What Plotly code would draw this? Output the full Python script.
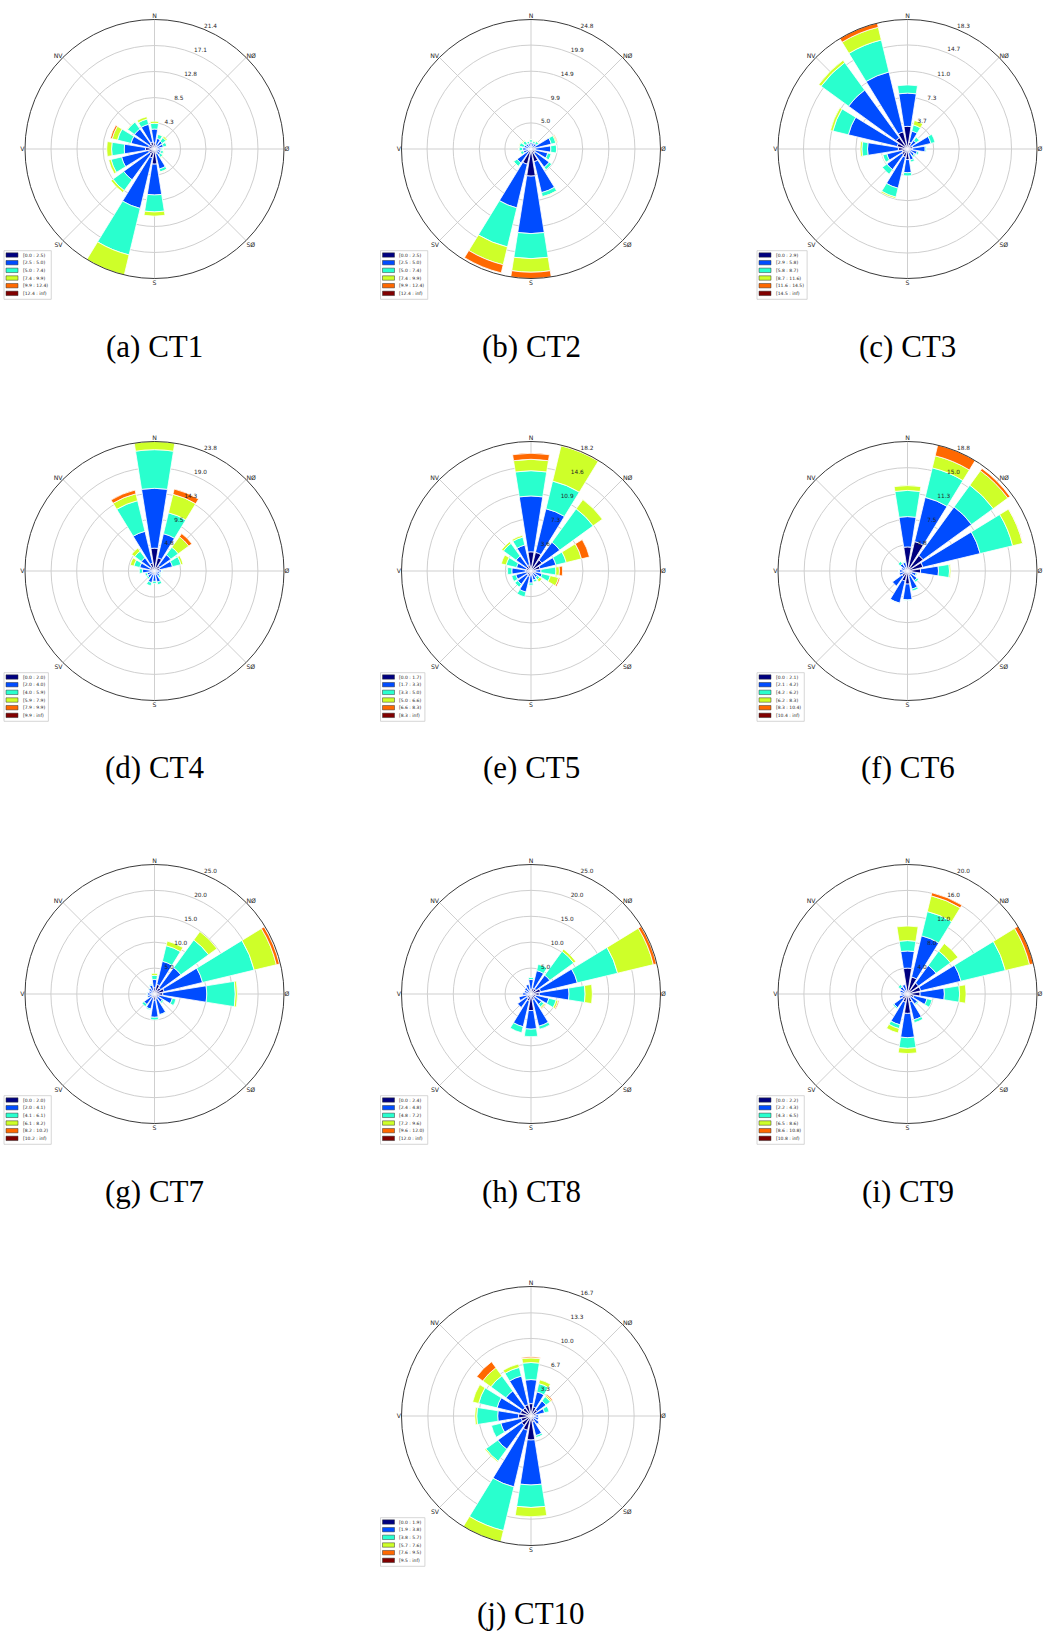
import plotly.graph_objects as go

W, H = 1045, 1634

# 16 compass sectors, N first, going clockwise
SECTORS = [i * 22.5 for i in range(16)]
COMPASS_ANGLES = [0, 45, 90, 135, 180, 225, 270, 315]
COMPASS_LABELS = ["N", "NØ", "Ø", "SØ", "S", "SV", "V", "NV"]
SPEED_COLORS = ["#000080", "#004cff", "#29ffce", "#ceff29", "#ff6800", "#800000"]

# Frequency (%) per speed class; each row holds the 16 sectors N, NNØ, NØ, ... NNV
CT1 = [
    [1.0, 0.7, 0.6, 0.5, 0.5, 0.4, 0.4, 0.8, 2.5, 1.5, 1.0, 1.0, 1.5, 1.0, 1.0, 1.2],
    [2.3, 1.1, 1.0, 1.0, 0.6, 0.7, 0.8, 2.6, 5.1, 8.6, 5.3, 4.6, 3.5, 3.0, 3.1, 3.0],
    [0.95, 0.7, 0.75, 0.6, 0.3, 0.45, 0.5, 0.5, 2.8, 7.9, 2.2, 1.8, 2.1, 2.3, 1.4, 0.9],
    [0.35, 0.05, 0.25, 0.05, 0.05, 0.1, 0.1, 0.05, 0.7, 3.4, 0.4, 0.4, 0.8, 0.9, 0.1, 0.4],
    [0, 0, 0, 0, 0, 0, 0, 0, 0, 0, 0, 0, 0, 0.3, 0, 0],
    [0, 0, 0, 0, 0, 0, 0, 0, 0, 0, 0, 0, 0, 0, 0, 0],
]
CT2 = [
    [0.5, 0.4, 0.4, 0.8, 0.8, 0.8, 1.0, 2.5, 5.2, 3.0, 0.8, 0.4, 0.4, 0.4, 0.4, 0.4],
    [0.8, 0.8, 0.9, 3.2, 3.0, 2.5, 3.3, 6.1, 11.0, 8.6, 2.5, 1.1, 1.2, 1.0, 0.8, 0.7],
    [0.5, 0.4, 0.5, 0.9, 1.1, 0.7, 0.6, 0.8, 4.8, 7.7, 0.8, 0.6, 0.7, 0.9, 0.7, 0.45],
    [0.05, 0.05, 0.1, 0.2, 0.05, 0.05, 0, 0.1, 2.6, 3.5, 0.05, 0.05, 0.1, 0.1, 0.2, 0.05],
    [0, 0, 0, 0.15, 0, 0, 0, 0, 1.2, 1.6, 0, 0, 0, 0, 0, 0],
    [0, 0, 0, 0, 0, 0, 0, 0, 0, 0, 0, 0, 0, 0, 0, 0],
]
CT3 = [
    [3.2, 1.0, 0.5, 0.8, 0.7, 0.5, 0.5, 0.6, 1.5, 1.2, 1.0, 0.8, 1.3, 1.5, 2.0, 2.5],
    [4.7, 1.6, 1.0, 2.6, 1.8, 0.9, 0.7, 1.0, 1.85, 4.5, 2.6, 2.2, 4.35, 7.1, 8.3, 8.7],
    [1.15, 0.9, 0.6, 0.6, 0.15, 0.25, 0.2, 0.3, 0.45, 1.3, 0.8, 0.6, 0.8, 2.25, 4.8, 4.65],
    [0, 0.65, 0.05, 0, 0, 0, 0, 0, 0, 0.2, 0, 0.05, 0.25, 0.35, 0.4, 1.85],
    [0, 0, 0, 0, 0, 0, 0, 0, 0, 0, 0, 0, 0, 0, 0, 0.6],
    [0, 0, 0, 0, 0, 0, 0, 0, 0, 0, 0, 0, 0, 0, 0, 0],
]
CT4 = [
    [4.2, 2.5, 1.2, 1.0, 0.5, 0.4, 0.4, 0.6, 0.6, 0.6, 0.5, 0.5, 0.6, 0.9, 1.0, 1.5],
    [11.0, 4.55, 2.5, 2.4, 0.8, 0.6, 0.8, 1.5, 1.3, 1.6, 1.0, 0.9, 1.6, 1.9, 2.0, 6.0],
    [7.1, 3.95, 1.7, 1.6, 0.2, 0.2, 0.3, 0.5, 0.4, 0.6, 0.3, 0.4, 0.6, 1.1, 1.5, 5.8],
    [1.5, 3.5, 2.4, 0.4, 0, 0, 0, 0, 0, 0, 0, 0, 0, 0.7, 0.7, 1.3],
    [0, 1.0, 0.7, 0, 0, 0, 0, 0, 0, 0, 0, 0, 0, 0, 0, 0.7],
    [0, 0, 0, 0, 0, 0, 0, 0, 0, 0, 0, 0, 0, 0, 0, 0],
]
CT5 = [
    [2.7, 2.7, 1.9, 1.3, 0.6, 0.6, 0.4, 0.5, 0.6, 0.8, 0.7, 0.6, 0.8, 0.7, 0.8, 0.9],
    [7.85, 6.3, 3.1, 2.3, 0.8, 1.0, 0.7, 0.8, 1.1, 2.25, 1.6, 1.6, 1.9, 1.4, 1.8, 2.85],
    [3.55, 4.0, 5.8, 1.5, 2.1, 1.2, 0.4, 0.3, 0.3, 0.7, 0.5, 0.6, 0.6, 1.5, 2.2, 1.15],
    [1.6, 5.1, 1.6, 2.2, 0.5, 1.2, 0.4, 0, 0, 0, 0, 0, 0, 0.7, 0.3, 0.25],
    [0.85, 0.1, 0, 1.15, 0.45, 0.2, 0, 0, 0, 0, 0, 0, 0, 0, 0, 0],
    [0, 0, 0, 0, 0, 0, 0, 0, 0, 0, 0, 0, 0, 0, 0, 0],
]
CT6 = [
    [3.5, 4.4, 2.8, 2.3, 1.9, 0.6, 0.6, 0.8, 1.9, 1.5, 1.0, 0.5, 0.5, 0.4, 0.5, 0.5],
    [4.4, 6.6, 8.7, 8.55, 2.6, 0.7, 1.1, 1.9, 2.3, 3.3, 1.7, 0.7, 0.7, 0.5, 0.8, 0.8],
    [3.8, 4.4, 3.9, 4.85, 1.6, 0.15, 0.3, 0.3, 0.05, 0.05, 0, 0, 0.05, 0, 0.4, 0.1],
    [0.7, 1.8, 2.6, 1.5, 0.2, 0, 0, 0, 0, 0, 0, 0, 0, 0, 0, 0],
    [0, 1.6, 0.4, 0.05, 0, 0, 0, 0, 0, 0, 0, 0, 0, 0, 0, 0],
    [0, 0, 0, 0, 0, 0, 0, 0, 0, 0, 0, 0, 0, 0, 0, 0],
]
CT7 = [
    [1.2, 1.9, 1.5, 1.9, 1.6, 0.9, 0.7, 1.0, 1.2, 0.8, 0.7, 0.5, 0.5, 0.4, 0.5, 0.7],
    [1.6, 4.6, 4.8, 7.65, 8.5, 2.65, 1.2, 3.1, 3.3, 2.2, 1.8, 0.9, 0.9, 0.7, 0.9, 1.1],
    [0.8, 3.1, 6.6, 10.25, 5.5, 0.7, 0.3, 0.1, 0.5, 0.2, 0.5, 0.1, 0.1, 0, 0.1, 0.2],
    [0.4, 0.9, 2.0, 4.4, 0.4, 0, 0, 0, 0, 0, 0, 0, 0, 0, 0, 0],
    [0, 0, 0, 0.6, 0, 0, 0, 0, 0, 0, 0, 0, 0, 0, 0, 0],
    [0, 0, 0, 0, 0, 0, 0, 0, 0, 0, 0, 0, 0, 0, 0, 0],
]
CT8 = [
    [0.9, 1.2, 1.2, 1.9, 1.6, 1.0, 0.9, 1.2, 3.2, 1.4, 1.0, 0.8, 0.6, 0.5, 0.6, 0.7],
    [1.9, 3.45, 3.3, 7.3, 5.75, 2.55, 1.6, 5.2, 3.6, 5.1, 2.2, 1.6, 1.0, 0.8, 0.9, 1.2],
    [0.4, 1.25, 5.7, 8.0, 3.1, 1.45, 0.6, 0.6, 1.45, 1.2, 0, 0, 0, 0, 0, 0],
    [0, 0, 0.5, 7.1, 1.4, 0.4, 0.3, 0, 0, 0, 0, 0, 0, 0, 0, 0],
    [0, 0, 0, 0.6, 0, 0.2, 0.1, 0, 0, 0, 0, 0, 0, 0, 0, 0],
    [0, 0, 0, 0, 0, 0, 0, 0, 0, 0, 0, 0, 0, 0, 0, 0],
]
CT9 = [
    [4.0, 2.7, 2.1, 2.1, 1.95, 1.0, 0.7, 1.3, 3.0, 1.3, 1.0, 0.5, 0.4, 0.5, 0.5, 0.6],
    [2.65, 6.55, 3.35, 6.4, 3.75, 2.1, 1.2, 2.8, 3.75, 3.6, 1.6, 0.8, 0.6, 0.7, 0.9, 0.9],
    [1.6, 3.85, 2.75, 7.05, 2.35, 0.8, 0.2, 0.45, 1.65, 0.6, 0.2, 0, 0, 0, 0.4, 0],
    [2.25, 2.5, 1.45, 3.85, 1.0, 0, 0, 0, 0.8, 0.7, 0, 0, 0, 0, 0, 0],
    [0, 0.5, 0, 0.6, 0, 0, 0, 0, 0, 0, 0, 0, 0, 0, 0, 0],
    [0, 0, 0, 0, 0, 0, 0, 0, 0, 0, 0, 0, 0, 0, 0, 0],
]
CT10 = [
    [1.6, 1.2, 1.0, 0.7, 0.4, 0.4, 0.5, 0.8, 3.1, 1.9, 1.5, 1.3, 1.6, 1.4, 1.3, 1.5],
    [3.1, 2.0, 1.4, 1.1, 0.6, 0.6, 0.8, 1.8, 5.8, 7.5, 3.8, 2.7, 2.7, 3.1, 2.7, 3.8],
    [2.2, 1.1, 0.7, 0.6, 0.1, 0, 0, 0.25, 2.9, 5.8, 1.9, 1.25, 2.7, 2.45, 2.4, 1.15],
    [0.6, 0.5, 0.2, 0, 0, 0, 0, 0, 1.2, 1.5, 0.15, 0, 0.25, 0.8, 1.3, 0.45],
    [0.15, 0, 0.15, 0, 0, 0, 0, 0, 0, 0, 0, 0, 0, 0, 0.95, 0],
    [0, 0, 0, 0, 0, 0, 0, 0, 0, 0, 0, 0, 0, 0, 0, 0],
]

# Wind speed classes (legend) per station
CT1_BINS = ["[0.0 : 2.5)", "[2.5 : 5.0)", "[5.0 : 7.4)", "[7.4 : 9.9)", "[9.9 : 12.4)", "[12.4 : inf)"]
CT2_BINS = ["[0.0 : 2.5)", "[2.5 : 5.0)", "[5.0 : 7.4)", "[7.4 : 9.9)", "[9.9 : 12.4)", "[12.4 : inf)"]
CT3_BINS = ["[0.0 : 2.9)", "[2.9 : 5.8)", "[5.8 : 8.7)", "[8.7 : 11.6)", "[11.6 : 14.5)", "[14.5 : inf)"]
CT4_BINS = ["[0.0 : 2.0)", "[2.0 : 4.0)", "[4.0 : 5.9)", "[5.9 : 7.9)", "[7.9 : 9.9)", "[9.9 : inf)"]
CT5_BINS = ["[0.0 : 1.7)", "[1.7 : 3.3)", "[3.3 : 5.0)", "[5.0 : 6.6)", "[6.6 : 8.3)", "[8.3 : inf)"]
CT6_BINS = ["[0.0 : 2.1)", "[2.1 : 4.2)", "[4.2 : 6.2)", "[6.2 : 8.3)", "[8.3 : 10.4)", "[10.4 : inf)"]
CT7_BINS = ["[0.0 : 2.0)", "[2.0 : 4.1)", "[4.1 : 6.1)", "[6.1 : 8.2)", "[8.2 : 10.2)", "[10.2 : inf)"]
CT8_BINS = ["[0.0 : 2.4)", "[2.4 : 4.8)", "[4.8 : 7.2)", "[7.2 : 9.6)", "[9.6 : 12.0)", "[12.0 : inf)"]
CT9_BINS = ["[0.0 : 2.2)", "[2.2 : 4.3)", "[4.3 : 6.5)", "[6.5 : 8.6)", "[8.6 : 10.8)", "[10.8 : inf)"]
CT10_BINS = ["[0.0 : 1.9)", "[1.9 : 3.8)", "[3.8 : 5.7)", "[5.7 : 7.6)", "[7.6 : 9.5)", "[9.5 : inf)"]

# Radial grid rings (frequency %), the last one is the outer edge
CT1_RINGS = ["4.3", "8.5", "12.8", "17.1", "21.4"]
CT2_RINGS = ["5.0", "9.9", "14.9", "19.9", "24.8"]
CT3_RINGS = ["3.7", "7.3", "11.0", "14.7", "18.3"]
CT4_RINGS = ["4.8", "9.5", "14.3", "19.0", "23.8"]
CT5_RINGS = ["3.6", "7.3", "10.9", "14.6", "18.2"]
CT6_RINGS = ["3.8", "7.5", "11.3", "15.0", "18.8"]
CT7_RINGS = ["5.0", "10.0", "15.0", "20.0", "25.0"]
CT8_RINGS = ["5.0", "10.0", "15.0", "20.0", "25.0"]
CT9_RINGS = ["4.0", "8.0", "12.0", "16.0", "20.0"]
CT10_RINGS = ["3.3", "6.7", "10.0", "13.3", "16.7"]

CAPTIONS = ["(a) CT1", "(b) CT2", "(c) CT3", "(d) CT4", "(e) CT5",
            "(f) CT6", "(g) CT7", "(h) CT8", "(i) CT9", "(j) CT10"]

PANELS = list(zip(
    CAPTIONS,
    [CT1, CT2, CT3, CT4, CT5, CT6, CT7, CT8, CT9, CT10],
    [CT1_BINS, CT2_BINS, CT3_BINS, CT4_BINS, CT5_BINS, CT6_BINS, CT7_BINS, CT8_BINS, CT9_BINS, CT10_BINS],
    [CT1_RINGS, CT2_RINGS, CT3_RINGS, CT4_RINGS, CT5_RINGS, CT6_RINGS, CT7_RINGS, CT8_RINGS, CT9_RINGS, CT10_RINGS],
))

# Page grid (pixels): rose centres and radius
COL_X = [154.5, 531.0, 907.5]
ROW_Y = [149.0, 571.0, 994.0, 1416.0]
RADIUS = 129.5
SLOTS = [(0, 0), (1, 0), (2, 0), (0, 1), (1, 1), (2, 1), (0, 2), (1, 2), (2, 2), (1, 3)]
RLABEL_DIR = 22.5  # ring labels sit along the NNØ direction

GRID = "#cfcfcf"
TEXT = "#262626"
SANS = "DejaVu Sans"

CHAR_W = {"[": 0.390, "(": 0.390, ")": 0.390, ".": 0.318, " ": 0.318,
          ":": 0.337, "i": 0.278, "n": 0.634, "f": 0.352}


def text_width(s, size):
    return sum(CHAR_W.get(c, 0.636) for c in s) * size


def fx(x):
    return x / W


def fy(y):
    return 1 - y / H


fig = go.Figure()
layout = {}
shapes = []
annotations = []

for k, (caption, freq, bins, rings) in enumerate(PANELS):
    col, row = SLOTS[k]
    cx, cy = COL_X[col], ROW_Y[row]
    ring_vals = [float(t) for t in rings]
    rmax = ring_vals[-1]
    domain = dict(x=[fx(cx - RADIUS), fx(cx + RADIUS)],
                  y=[fy(cy + RADIUS), fy(cy - RADIUS)])

    base = "polar" if k == 0 else f"polar{k + 1}"
    top = f"polar{k + 11}"

    # stacked speed classes
    for vals, color, label in zip(freq, SPEED_COLORS, bins):
        fig.add_trace(go.Barpolar(
            r=vals, theta=SECTORS, width=18, name=label,
            marker=dict(color=color, line=dict(color="white", width=0.8)),
            subplot=base, showlegend=False, hoverinfo="skip",
        ))

    layout[base] = dict(
        domain=domain,
        bgcolor="white",
        barmode="stack",
        angularaxis=dict(
            rotation=90, direction="clockwise",
            tickmode="array", tickvals=COMPASS_ANGLES, ticktext=COMPASS_LABELS,
            showgrid=True, gridcolor=GRID, gridwidth=0.8,
            showline=False, ticks="", layer="below traces",
            tickfont=dict(family=SANS, size=6.2, color=TEXT),
        ),
        radialaxis=dict(
            range=[0, rmax], tickmode="array", tickvals=ring_vals,
            showgrid=True, gridcolor=GRID, gridwidth=0.8,
            showline=False, ticks="", showticklabels=False, layer="below traces",
        ),
    )

    # transparent overlay: ring labels and the outer rim drawn above the bars
    fig.add_trace(go.Scatterpolar(
        r=ring_vals, theta=[RLABEL_DIR] * len(ring_vals), mode="text",
        text=rings, textposition="top right", cliponaxis=False,
        textfont=dict(family=SANS, size=5.8, color=TEXT),
        subplot=top, showlegend=False, hoverinfo="skip",
    ))
    layout[top] = dict(
        domain=domain,
        bgcolor="rgba(0,0,0,0)",
        angularaxis=dict(
            rotation=90, direction="clockwise", showgrid=False,
            showticklabels=False, ticks="", showline=True,
            linecolor="#3a3a3a", linewidth=1,
        ),
        radialaxis=dict(
            range=[0, rmax], showgrid=False, showline=False, ticks="",
            showticklabels=False,
        ),
    )

    # legend box in the lower-left corner of the rose
    fsize = 4.5
    lx, ly = cx - 150.5, cy + 101.7
    lw = 17.7 + max(text_width(s, fsize) for s in bins) + 4.5
    lh = 48.6
    shapes.append(dict(type="rect", xref="paper", yref="paper",
                       x0=fx(lx), x1=fx(lx + lw), y0=fy(ly + lh), y1=fy(ly),
                       line=dict(color="#cccccc", width=0.8), fillcolor="white",
                       layer="above"))
    for i, (label, color) in enumerate(zip(bins, SPEED_COLORS)):
        yc = ly + 4.3 + i * 7.67
        shapes.append(dict(type="rect", xref="paper", yref="paper",
                           x0=fx(lx + 2), x1=fx(lx + 14),
                           y0=fy(yc + 2.2), y1=fy(yc - 2.2),
                           line=dict(color="#333333", width=0.5), fillcolor=color,
                           layer="above"))
        annotations.append(dict(xref="paper", yref="paper", x=fx(lx + 17.7), y=fy(yc),
                                xanchor="left", yanchor="middle", showarrow=False,
                                text=label, borderpad=0,
                                font=dict(family=SANS, size=fsize, color=TEXT)))

    annotations.append(dict(xref="paper", yref="paper", x=fx(cx), y=fy(cy + 197),
                            xanchor="center", yanchor="middle", showarrow=False,
                            text=caption,
                            font=dict(family="Liberation Serif", size=31, color="black")))

fig.update_layout(
    width=W, height=H,
    margin=dict(l=0, r=0, t=0, b=0),
    paper_bgcolor="white",
    showlegend=False,
    shapes=shapes,
    annotations=annotations,
    **layout,
)

fig.write_html("out.html")
